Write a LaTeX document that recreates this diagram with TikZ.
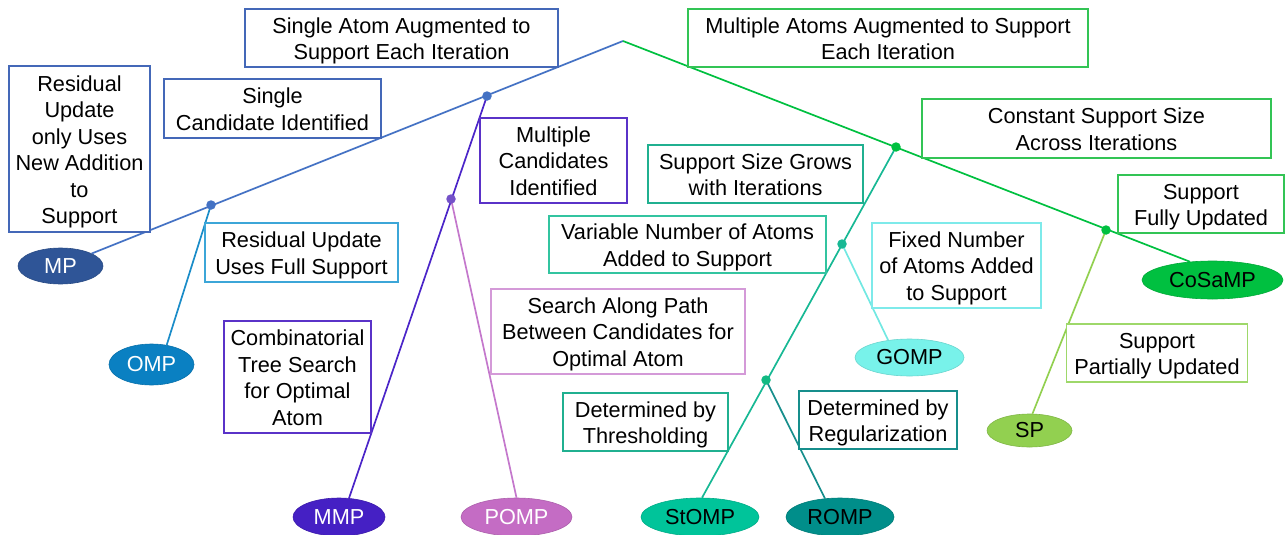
\documentclass[tikz,border=0pt]{standalone}
\usepackage{fontspec}
\setmainfont{Liberation Sans}
\usetikzlibrary{shapes.geometric}
\definecolor{cBlue}{HTML}{4472C4}
\definecolor{cBlueBox}{HTML}{4468B8}
\definecolor{cGreen}{HTML}{00C040}
\definecolor{cGreenBox}{HTML}{33C455}
\definecolor{cOmpLine}{HTML}{1A8CC8}
\definecolor{cOmpBox}{HTML}{3CA6D8}
\definecolor{cPurple}{HTML}{4B25C8}
\definecolor{cPurpleBox}{HTML}{5A32C8}
\definecolor{cPurpleDot}{HTML}{7452C8}
\definecolor{cOrchid}{HTML}{C478CC}
\definecolor{cOrchidBox}{HTML}{D49AD8}
\definecolor{cTeal}{HTML}{17B894}
\definecolor{cTealBox}{HTML}{20B090}
\definecolor{cVarBox}{HTML}{33C4A0}
\definecolor{cCyan}{HTML}{72E8E2}
\definecolor{cCyanBox}{HTML}{7EEAEA}
\definecolor{cDTeal}{HTML}{168E8C}
\definecolor{cLGreen}{HTML}{92D050}
\definecolor{cLGreenBox}{HTML}{9ED86A}
\definecolor{fMP}{HTML}{2F5597}
\definecolor{fOMP}{HTML}{0A80C2}
\definecolor{fMMP}{HTML}{4520C4}
\definecolor{fPOMP}{HTML}{C46CC4}
\definecolor{fStOMP}{HTML}{00C49A}
\definecolor{fROMP}{HTML}{008E8A}
\definecolor{fGOMP}{HTML}{78F2EA}
\definecolor{fSP}{HTML}{92D050}
\definecolor{fCoSaMP}{HTML}{00C040}
\newcommand{\mylines}[1]{\raisebox{-3pt}[\height][\depth]{\begin{tabular}{@{}c@{}}#1\end{tabular}}}
\tikzset{
  lbl/.style={draw=#1, line width=1.2pt, fill=white, rectangle, inner sep=0pt,
    font=\fontsize{21.7}{26.5}\selectfont},
  alg/.style={ellipse, fill=#1, draw=#1!88!black, line width=0.6pt, inner sep=0pt,
    font=\fontsize{21.7}{26}\selectfont},
  conn/.style={draw=#1, line width=1.7pt},
  dotn/.style={circle, fill=#1, inner sep=0pt, minimum size=9.5pt}
}
\begin{document}
\begin{tikzpicture}[x=1pt, y=-1pt]
\useasboundingbox (0,0) rectangle (1287,535);

% algorithm ellipses
\node[alg=fMP, text=white, minimum width=85pt, minimum height=36pt] (mp) at (60.5,266) {MP};
\node[alg=fOMP, text=white, minimum width=85pt, minimum height=41pt] (omp) at (151.5,364.5) {OMP};
\node[alg=fMMP, text=white, minimum width=92pt, minimum height=38pt] (mmp) at (339,517) {MMP};
\node[alg=fPOMP, text=white, minimum width=111pt, minimum height=38pt] (pomp) at (516.5,517) {POMP};
\node[alg=fStOMP, text=black, minimum width=118pt, minimum height=38pt] (stomp) at (700,517) {StOMP};
\node[alg=fROMP, text=black, minimum width=108pt, minimum height=38pt] (romp) at (840,517) {ROMP};
\node[alg=fGOMP, text=black, minimum width=109pt, minimum height=37pt] (gomp) at (909.5,357.5) {GOMP};
\node[alg=fSP, text=black, minimum width=85pt, minimum height=33pt] (sp) at (1029.5,430.5) {SP};
\node[alg=fCoSaMP, text=black, minimum width=141pt, minimum height=38pt] (cosamp) at (1212.5,280) {CoSaMP};

% branch points
\coordinate (root) at (623,41);
\coordinate (p1) at (487,96);
\coordinate (p2) at (211,205);
\coordinate (p3) at (451,199);
\coordinate (p4) at (896,147);
\coordinate (p5) at (842,244);
\coordinate (p6) at (766,380);
\coordinate (p7) at (1106,230);

% connectors
\draw[conn=cBlue] (root) -- (mp);
\draw[conn=cGreen] (root) -- (cosamp.141);
\draw[conn=cOmpLine] (p2) -- (omp.52);
\draw[conn=cPurple] (p1) -- (mmp.62);
\draw[conn=cOrchid] (p3) -- (pomp.north);
\draw[conn=cTeal] (p4) -- (stomp.84);
\draw[conn=cCyan] (p5) -- (gomp.141);
\draw[conn=cDTeal] (p6) -- (romp.129);
\draw[conn=cLGreen] (p7) -- (sp.80);

% dots
\node[dotn=cBlue] (d1) at (p1) {};
\node[dotn=cBlue] (d2) at (p2) {};
\node[dotn=cPurpleDot] (d3) at (p3) {};
\node[dotn=cGreen] (d4) at (p4) {};
\node[dotn=cTeal] (d5) at (p5) {};
\node[dotn=cTeal!80!cGreen] (d6) at (p6) {};
\node[dotn=cGreen] (d7) at (p7) {};

% labels
\node[lbl=cBlueBox, minimum width=313pt, minimum height=58pt] (a1) at (401.5,38) {\mylines{Single Atom Augmented to\\Support Each Iteration}};
\node[lbl=cGreenBox, minimum width=400pt, minimum height=58pt] (a2) at (888,38) {\mylines{Multiple Atoms Augmented to Support\\Each Iteration}};
\node[lbl=cBlueBox, minimum width=141pt, minimum height=166pt] (b1) at (79.5,149) {\mylines{Residual\\Update\\only Uses\\New Addition\\to\\Support}};
\node[lbl=cBlueBox, minimum width=217pt, minimum height=59pt] (b2) at (272.5,108.5) {\mylines{Single\\Candidate Identified}};
\node[lbl=cPurpleBox, minimum width=147pt, minimum height=85pt] (b3) at (553.5,160.5) {\mylines{Multiple\\Candidates\\Identified}};
\node[lbl=cOmpBox, minimum width=193pt, minimum height=59pt] (b4) at (301.5,252.5) {\mylines{Residual Update\\Uses Full Support}};
\node[lbl=cPurpleBox, minimum width=147pt, minimum height=112pt] (b5) at (297.5,377) {\mylines{Combinatorial\\Tree Search\\for Optimal\\Atom}};
\node[lbl=cOrchidBox, minimum width=254pt, minimum height=85pt] (b6) at (618,331.5) {\mylines{Search Along Path\\Between Candidates for\\Optimal Atom}};
\node[lbl=cGreenBox, minimum width=349pt, minimum height=59pt] (c1) at (1096.5,128.5) {\mylines{Constant Support Size\\Across Iterations}};
\node[lbl=cTealBox, minimum width=215pt, minimum height=58pt] (c2) at (755.5,174) {\mylines{Support Size Grows\\with Iterations}};
\node[lbl=cGreenBox, minimum width=166pt, minimum height=58pt] (c3) at (1201,204) {\mylines{Support\\Fully Updated}};
\node[lbl=cVarBox, minimum width=277pt, minimum height=57pt] (c4) at (687.5,244.5) {\mylines{Variable Number of Atoms\\Added to Support}};
\node[lbl=cCyanBox, minimum width=169pt, minimum height=85pt] (c5) at (956.5,265.5) {\mylines{Fixed Number\\of Atoms Added\\to Support}};
\node[lbl=cLGreenBox, minimum width=181pt, minimum height=58pt] (c6) at (1157,353) {\mylines{Support\\Partially Updated}};
\node[lbl=cTealBox, minimum width=165pt, minimum height=58pt] (c7) at (645.5,422) {\mylines{Determined by\\Thresholding}};
\node[lbl=cDTeal, minimum width=158pt, minimum height=58pt] (c8) at (878,420) {\mylines{Determined by\\Regularization}};
\end{tikzpicture}
\end{document}
